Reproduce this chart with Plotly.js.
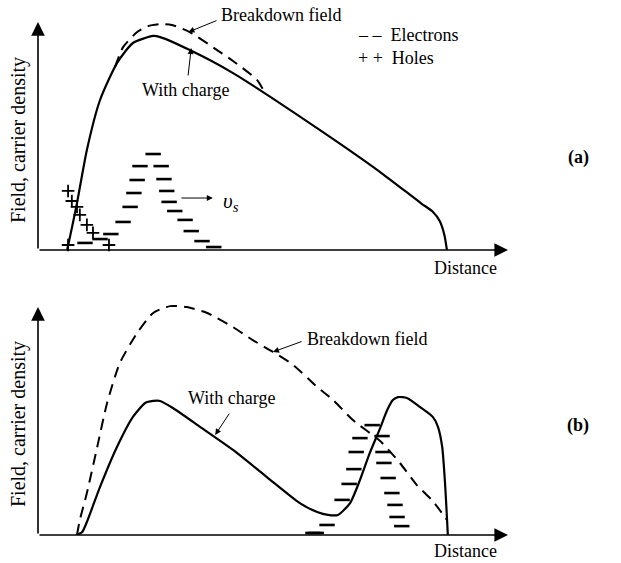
<!DOCTYPE html>
<html>
<head>
<meta charset="utf-8">
<script src="https://cdn.plot.ly/plotly-3.0.1.min.js"></script>
<style>html,body{margin:0;padding:0;background:#fff;}#chart{width:621px;height:563px;}</style>
</head>
<body>
<div id="chart"></div>
<script>
// ---------- Panel (a) ----------
const withChargeAX = [6.2, 7.2, 8.3, 10.4, 13.2, 16.8, 20.2, 24.5, 26.0, 32.3, 41.5, 60.0, 72.8, 81.5, 84.0, 85.5, 86.5, 87.0];
const withChargeAY = [0, 9.6, 20.6, 43.9, 65.8, 82.0, 90.8, 93.9, 93.4, 87.7, 77.6, 52.6, 34.2, 20.5, 16.8, 12.6, 6.3, 0];
const breakdownAX = [16.4, 18.1, 21.1, 23.4, 26.0, 28.5, 32.3, 38.1, 41.5, 46.6, 48.5];
const breakdownAY = [80.3, 89.0, 95.6, 98.2, 99.1, 98.7, 95.6, 87.7, 82.9, 74.6, 68.0];
const holesAX = [6.4, 7.2, 8.3, 8.9, 10.4, 11.7, 6.4, 15.1];
const holesAY = [25.9, 21.5, 18.9, 15.4, 11.0, 7.5, 2.2, 2.2];
const electronsAX = [24.5, 21.7, 26.2, 21.1, 26.8, 20.4, 27.4, 27.9, 19.6, 29.1, 18.1, 31.3, 15.5, 32.6, 13.2, 34.9, 10.0, 37.4];
const electronsAY = [42.1, 36.8, 36.8, 30.7, 31.1, 25.0, 25.9, 21.1, 18.9, 17.1, 12.3, 13.2, 7.0, 8.3, 4.8, 3.9, 3.1, 1.3];

// ---------- Panel (b) ----------
const withChargeBX = [8.3, 9.4, 10.4, 13.2, 16.8, 20.2, 22.8, 24.5, 26.0, 28.7, 34.5, 41.5, 48.7, 55.7, 59.4, 61.7, 63.8, 66.4, 68.5, 70.6, 72.8, 74.3, 75.5, 76.6, 78.5, 81.3, 84.0, 85.1, 86.0, 86.6, 87.2];
const withChargeBY = [0, 1.3, 5.7, 21.1, 38.6, 51.8, 57.9, 58.8, 58.8, 55.7, 47.4, 37.3, 25.4, 14.0, 10.1, 8.8, 8.8, 14.0, 24.1, 36.0, 46.9, 54.8, 59.2, 60.5, 60.1, 56.1, 51.8, 47.4, 38.6, 22.8, 0];
const breakdownBX = [8.3, 8.9, 10.4, 12.6, 14.7, 17.4, 21.1, 24.5, 28.1, 31.7, 36.0, 41.5, 45.7, 50.0, 54.3, 59.4, 62.8, 67.0, 72.8, 77.0, 80.6, 84.0, 87.0];
const breakdownBY = [0, 6.6, 18.4, 38.6, 57.9, 75.4, 88.6, 97.4, 100.4, 100.0, 97.4, 91.2, 85.5, 80.3, 74.6, 64.9, 59.2, 50.4, 41.2, 31.6, 21.9, 14.9, 6.6];
const electronsBX = [71.1, 68.5, 73.2, 67.7, 73.4, 67.2, 73.6, 66.2, 74.5, 64.7, 75.3, 75.96, 61.5, 76.4, 77.4, 58.5, 59.2];
const electronsBY = [48.2, 42.5, 43.4, 36.4, 36.4, 28.9, 31.6, 22.4, 25.0, 15.4, 18.4, 13.2, 4.4, 7.9, 3.9, 0.9, 0.9];

// ---------- Text ----------
const yLabel = 'Field, carrier density';
const xLabel = 'Distance';
const panelLabels = ['(a)', '(b)'];

const FONT = 'Liberation Serif, Times New Roman, serif';
const W = 621, H = 563;
const px = v => v / W;
const py = v => 1 - v / H;

const solid = {color: '#000', width: 2.2, shape: 'spline', smoothing: 0.6};
const dashed = {color: '#000', width: 2, dash: '11px,7px', shape: 'spline', smoothing: 0.6};
const eMarker = {symbol: 'line-ew', size: 11, line: {color: '#000', width: 2.6}};
const hMarker = {symbol: 'cross-thin', size: 9, line: {color: '#000', width: 1.8}};

const traces = [
  {x: breakdownAX, y: breakdownAY, mode: 'lines', line: dashed, xaxis: 'x', yaxis: 'y'},
  {x: withChargeAX, y: withChargeAY, mode: 'lines', line: solid, xaxis: 'x', yaxis: 'y'},
  {x: holesAX, y: holesAY, mode: 'markers', marker: hMarker, xaxis: 'x', yaxis: 'y', cliponaxis: false},
  {x: electronsAX, y: electronsAY, mode: 'markers', marker: eMarker, xaxis: 'x', yaxis: 'y', cliponaxis: false},
  {x: breakdownBX, y: breakdownBY, mode: 'lines', line: dashed, xaxis: 'x2', yaxis: 'y2'},
  {x: withChargeBX, y: withChargeBY, mode: 'lines', line: solid, xaxis: 'x2', yaxis: 'y2'},
  {x: electronsBX, y: electronsBY, mode: 'markers', marker: eMarker, xaxis: 'x2', yaxis: 'y2', cliponaxis: false}
];

function axisArrow(xr, yr, x, y, ax, ay) {
  return {xref: xr, yref: yr, axref: xr, ayref: yr, x: x, y: y, ax: ax, ay: ay, text: '',
          showarrow: true, arrowhead: 2, arrowsize: 1.7, arrowwidth: 1.6, arrowcolor: '#000', standoff: 0};
}
function ptr(xr, yr, x, y, ax, ay) {
  return {xref: xr, yref: yr, axref: xr, ayref: yr, x: x, y: y, ax: ax, ay: ay, text: '',
          showarrow: true, arrowhead: 2, arrowsize: 1.2, arrowwidth: 1, arrowcolor: '#000', standoff: 0};
}
function txt(x, y, t, opts) {
  return Object.assign({xref: 'paper', yref: 'paper', x: px(x), y: py(y), text: t, showarrow: false,
          xanchor: 'left', yanchor: 'middle', font: {family: FONT, size: 18, color: '#000'}}, opts || {});
}

const annotations = [
  // axes
  axisArrow('x', 'y', 100, 0, 0, 0), axisArrow('x', 'y', 0, 100, 0, 0),
  axisArrow('x2', 'y2', 100, 0, 0, 0), axisArrow('x2', 'y2', 0, 100, 0, 0),
  // panel a pointers
  ptr('x', 'y', 32.0, 95.6, 38.3, 100.9),
  ptr('x', 'y', 32.6, 88.6, 31.9, 75.9),
  ptr('x', 'y', 37.2, 22.8, 30.2, 22.8),
  // panel b pointers
  ptr('x2', 'y2', 50.0, 80.3, 56.4, 85.1),
  ptr('x2', 'y2', 37.7, 43.9, 40.9, 53.9),
  // texts panel a
  txt(219, 15, 'Breakdown field'),
  txt(185, 90, 'With charge', {xanchor: 'center'}),
  txt(356, 35, '– –  Electrons'),
  txt(356, 58, '+ +  Holes'),
  txt(221, 202, '<i>υ<sub>s</sub></i>', {font: {family: FONT, size: 21, color: '#000'}}),
  txt(465, 268, xLabel, {xanchor: 'center'}),
  txt(578, 157, '<b>' + panelLabels[0] + '</b>', {xanchor: 'center'}),
  txt(18, 140, yLabel, {xanchor: 'center', textangle: -90, font: {family: FONT, size: 20, color: '#000'}}),
  // texts panel b
  txt(305, 339, 'Breakdown field'),
  txt(231, 398, 'With charge', {xanchor: 'center'}),
  txt(465, 551, xLabel, {xanchor: 'center'}),
  txt(578, 425, '<b>' + panelLabels[1] + '</b>', {xanchor: 'center'}),
  txt(18, 424, yLabel, {xanchor: 'center', textangle: -90, font: {family: FONT, size: 20, color: '#000'}})
];

const hidden = {visible: false, fixedrange: true};
const layout = {
  width: W, height: H,
  margin: {l: 0, r: 0, t: 0, b: 0},
  paper_bgcolor: '#fff', plot_bgcolor: 'rgba(0,0,0,0)',
  showlegend: false,
  xaxis: Object.assign({domain: [38 / W, 508 / W], range: [0, 100], anchor: 'y'}, hidden),
  yaxis: Object.assign({domain: [1 - 250 / H, 1 - 12 / H], range: [0, 104.4], anchor: 'x'}, hidden),
  xaxis2: Object.assign({domain: [38 / W, 508 / W], range: [0, 100], anchor: 'y2'}, hidden),
  yaxis2: Object.assign({domain: [1 - 535 / H, 1 - 297 / H], range: [0, 104.4], anchor: 'x2'}, hidden),
  annotations: annotations
};

Plotly.newPlot('chart', traces, layout, {staticPlot: true, displayModeBar: false});
</script>
</body>
</html>
